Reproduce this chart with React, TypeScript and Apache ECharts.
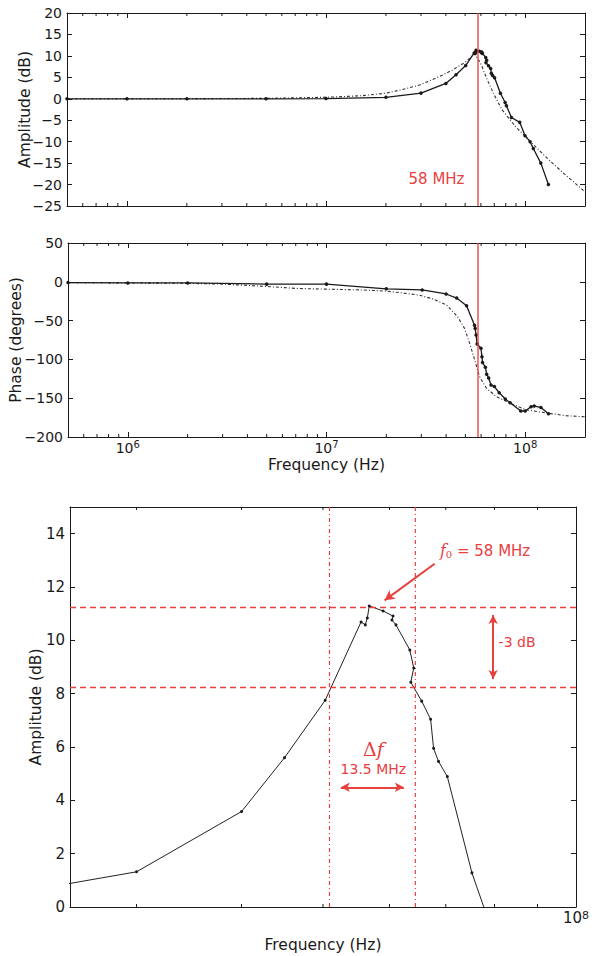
import React, { useEffect, useRef } from 'react';
import * as echarts from 'echarts';

// ---------- measured data ----------
const ampFreqHz = [5e5, 1e6, 2e6, 5e6, 1e7, 2e7, 3e7, 4e7, 4.5e7, 5.03e7, 5.55e7, 5.615e7, 5.646e7, 5.676e7, 5.896e7, 6.058e7, 6.04e7, 6.107e7, 6.343e7, 6.412e7, 6.36e7, 6.553e7, 6.715e7, 6.77e7, 6.862e7, 7.03e7, 7.52e7, 7.94e7, 8.06e7, 8.54e7, 9.4e7, 1.0e8, 1.06e8, 1.1e8, 1.2e8, 1.31e8];
const ampDb = [0, 0, 0, 0, 0.05, 0.35, 1.32, 3.58, 5.6, 7.75, 10.69, 10.58, 10.84, 11.29, 11.1, 10.91, 10.76, 10.58, 9.64, 8.96, 8.43, 7.72, 7.04, 5.95, 5.46, 4.89, 1.28, -0.86, -1.63, -4.36, -5.5, -8.6, -10.0, -11.6, -15.0, -20.0];

const phaseFreqHz = [5e5, 1e6, 2e6, 5e6, 1e7, 2e7, 3.03e7, 4e7, 4.52e7, 5.07e7, 5.56e7, 5.6e7, 5.66e7, 5.73e7, 5.99e7, 6.06e7, 6.1e7, 6.3e7, 6.4e7, 6.55e7, 6.73e7, 7.0e7, 7.4e7, 7.94e7, 8.4e7, 9.5e7, 1.0e8, 1.07e8, 1.11e8, 1.2e8, 1.31e8];
const phaseDeg = [-1, -1.5, -1.5, -3, -3, -9, -10.5, -15.7, -21, -31, -56, -60, -68.5, -80, -85.7, -96.5, -104, -110, -119, -124, -133, -135, -143, -151, -156, -166.5, -166.5, -161, -160, -162, -170];

// ---------- model (fit) curves ----------
const modelAmpFreqHz = [5e5, 1e6, 2e6, 5e6, 1e7, 1.5e7, 2e7, 2.34e7, 2.95e7, 3.72e7, 4.32e7, 5.07e7, 5.56e7, 5.8e7, 6.03e7, 6.46e7, 7.0e7, 7.67e7, 9.0e7, 1.08e8, 1.32e8, 1.6e8, 2e8];
const modelAmpDb = [0, 0, 0.02, 0.1, 0.35, 0.7, 1.3, 2.0, 3.2, 5.2, 6.7, 8.7, 10.5, 9.3, 7.9, 4.4, 0.9, -2.6, -6.6, -10.3, -14.3, -17.8, -21.7];

const modelPhaseFreqHz = [5e5, 1e6, 2e6, 3e6, 5e6, 7e6, 1e7, 1.5e7, 2e7, 2.34e7, 2.9e7, 3.43e7, 4.03e7, 4.57e7, 4.95e7, 5.25e7, 5.56e7, 5.89e7, 6.38e7, 7.16e7, 8.32e7, 1.01e8, 1.27e8, 1.6e8, 2e8];
const modelPhaseDeg = [-1, -1.5, -2, -3, -6, -8.5, -9.5, -10.5, -12, -14, -17, -22, -30, -45, -60, -79, -100, -122, -137, -148, -156, -165, -169, -172.5, -174];

// ---------- annotations ----------
const resonanceHz = 58e6;
const levelLinesDb = [11.25, 8.25];
const bandEdgesHz = [50.9e6, 64.4e6];

// ---------- axis ranges / tick positions ----------
const wideRangeHz = [5e5, 2e8];
const zoomRangeHz = [2.5e7, 1e8];
const ampRange = [-25, 20];
const phaseRange = [-200, 50];
const zoomAmpRange = [0, 15];
const minorTicksWide = [6e5, 7e5, 8e5, 9e5, 2e6, 3e6, 4e6, 5e6, 6e6, 7e6, 8e6, 9e6, 2e7, 3e7, 4e7, 5e7, 6e7, 7e7, 8e7, 9e7];
const minorTicksZoom = [3e7, 4e7, 5e7, 6e7, 7e7, 8e7, 9e7];

const FONT = 'DejaVu Sans';
const SERIF = 'DejaVu Serif';
const BLACK = '#1a1a1a';
const RED = '#e8403f';

const zip = (xs: number[], ys: number[]) => xs.map((x, i) => [x, ys[i]]);
const minusFmt = (v: number) => String(v).replace('-', '\u2212');
const pow10Label = (v: number) => {
  const e = Math.log10(v);
  const r = Math.round(e);
  return Math.abs(e - r) < 1e-6 ? `10{sup|${r}}` : '';
};

function xAxes(gridIndex: number, range: number[], showLabels: boolean, name: string, nameGap: number, fs: number) {
  const common: any = {
    type: 'log', logBase: 10, min: range[0], max: range[1], gridIndex,
    axisLine: { show: true, onZero: false, lineStyle: { color: BLACK, width: 1 } },
    axisTick: { show: true, inside: true, length: 5, lineStyle: { color: BLACK, width: 1 } },
    splitLine: { show: false },
    nameMoveOverlap: false,
  };
  return [
    {
      ...common, position: 'bottom',
      name, nameLocation: 'middle', nameGap,
      nameTextStyle: { fontFamily: FONT, fontSize: 15.5, color: BLACK },
      axisLabel: {
        show: showLabels, formatter: pow10Label, color: BLACK, fontFamily: FONT, fontSize: fs, margin: 3,
        lineHeight: fs + 1, hideOverlap: false,
        rich: { sup: { fontSize: fs - 4, lineHeight: fs - 4, fontFamily: FONT, color: BLACK, padding: [0, 0, 6, 0] } },
      },
    },
    { ...common, position: 'top', axisLabel: { show: false } },
  ];
}

function yAxes(gridIndex: number, range: number[], interval: number, name: string, nameGap: number, fs: number, hideAbove?: number) {
  const common: any = {
    type: 'value', min: range[0], max: range[1], interval, gridIndex,
    axisLine: { show: true, onZero: false, lineStyle: { color: BLACK, width: 1 } },
    axisTick: { show: true, inside: true, length: 5, lineStyle: { color: BLACK, width: 1 } },
    splitLine: { show: false },
    nameMoveOverlap: false,
  };
  return [
    {
      ...common, position: 'left',
      name, nameLocation: 'middle', nameGap, nameRotate: 90,
      nameTextStyle: { fontFamily: FONT, fontSize: 15.5, color: BLACK },
      axisLabel: {
        color: BLACK, fontFamily: FONT, fontSize: fs, margin: 5,
        formatter: (v: number) => (hideAbove !== undefined && v > hideAbove ? '' : minusFmt(v)),
      },
    },
    { ...common, position: 'right', axisLabel: { show: false } },
  ];
}

function minorTickSeries(axisIdx: number, ticks: number[], yRange: number[]) {
  return {
    type: 'custom', xAxisIndex: axisIdx, yAxisIndex: axisIdx, silent: true, z: 5,
    data: ticks.map((t) => [t, yRange[0]]),
    encode: { x: 0, y: 1 },
    renderItem: (_p: any, api: any) => {
      const x = api.value(0);
      const b = api.coord([x, yRange[0]]);
      const t = api.coord([x, yRange[1]]);
      return {
        type: 'group',
        children: [
          { type: 'line', shape: { x1: b[0], y1: b[1], x2: b[0], y2: b[1] - 3 }, style: { stroke: BLACK, lineWidth: 1 } },
          { type: 'line', shape: { x1: t[0], y1: t[1], x2: t[0], y2: t[1] + 3 }, style: { stroke: BLACK, lineWidth: 1 } },
        ],
      };
    },
  };
}

const vPair = (x: number, yRange: number[]) => [{ coord: [x, yRange[0]] }, { coord: [x, yRange[1]] }];
const hPair = (y: number, xRange: number[]) => [{ coord: [xRange[0], y] }, { coord: [xRange[1], y] }];

const redVLine = (yRange: number[]) => ({
  silent: true, symbol: 'none', label: { show: false },
  lineStyle: { color: RED, width: 1.5, type: 'solid', opacity: 0.9 },
  data: [vPair(resonanceHz, yRange)],
});

const dataLine = (xi: number, data: number[][], width: number, sym: number) => ({
  type: 'line', xAxisIndex: xi, yAxisIndex: xi, data,
  symbol: 'circle', symbolSize: sym, showSymbol: true, clip: true,
  itemStyle: { color: BLACK },
  lineStyle: { color: BLACK, width },
  z: 4,
});

const modelLine = (xi: number, data: number[][]) => ({
  type: 'line', xAxisIndex: xi, yAxisIndex: xi, data,
  symbol: 'none', clip: true,
  lineStyle: { color: '#333', width: 1.1, type: [3, 2, 1, 2] },
  z: 3,
});

// band-edge guide drawn as a plain two-point line series
const bandEdgeLine = (x: number) => ({
  type: 'line', xAxisIndex: 4, yAxisIndex: 4, silent: true,
  data: [[x, zoomAmpRange[0]], [x, zoomAmpRange[1]]],
  symbol: 'none', clip: true,
  itemStyle: { color: RED },
  lineStyle: { color: RED, width: 1.2, type: [4, 3, 1, 3] },
  z: 2,
});

const markerHolder = (xi: number, markLine: any) => ({
  type: 'line', xAxisIndex: xi, yAxisIndex: xi, data: [], symbol: 'none',
  itemStyle: { color: RED }, lineStyle: { color: RED },
  markLine, z: 2,
});

export default function App() {
  const ref = useRef<HTMLDivElement>(null);
  useEffect(() => {
    document.body.style.margin = '0';
    if (!ref.current) return;
    const chart = echarts.init(ref.current, undefined, { renderer: 'svg' });

    const lbl = (text: string, coord: number[], extra: any = {}) => ({
      coord,
      symbol: 'circle', symbolSize: 1, itemStyle: { color: 'transparent' },
      label: { show: true, position: 'inside', formatter: text, color: RED, fontFamily: FONT, fontSize: 14, ...extra },
    });

    const option: any = {
      animation: false,
      backgroundColor: '#fff',
      grid: [
        { left: 67, top: 13, width: 518, height: 193 },
        { left: 67, top: 243, width: 518, height: 194 },
        { left: 70, top: 507, width: 513, height: 400 },
      ],
      xAxis: [
        ...xAxes(0, wideRangeHz, false, '', 0, 14),
        ...xAxes(1, wideRangeHz, true, 'Frequency (Hz)', 20, 14),
        ...xAxes(2, zoomRangeHz, true, 'Frequency (Hz)', 30, 15),
      ],
      yAxis: [
        ...yAxes(0, ampRange, 5, 'Amplitude (dB)', 34, 14),
        ...yAxes(1, phaseRange, 50, 'Phase (degrees)', 44, 14),
        ...yAxes(2, zoomAmpRange, 2, 'Amplitude (dB)', 26, 15, 14),
      ],
      series: [
        {
          ...dataLine(0, zip(ampFreqHz, ampDb), 1.3, 3.5),
          markLine: redVLine(ampRange),
          markPoint: {
            silent: true,
            data: [{
              coord: [resonanceHz, -18.7], symbol: 'circle', symbolSize: 1, itemStyle: { color: 'transparent' },
              label: { show: true, position: 'left', distance: 13, formatter: '58 MHz', color: RED, fontFamily: FONT, fontSize: 15 },
            }],
          },
        },
        modelLine(0, zip(modelAmpFreqHz, modelAmpDb)),
        { ...dataLine(2, zip(phaseFreqHz, phaseDeg), 1.3, 3.5), markLine: redVLine(phaseRange) },
        modelLine(2, zip(modelPhaseFreqHz, modelPhaseDeg)),
        // dashed peak / -3 dB levels
        markerHolder(4, {
          silent: true, symbol: 'none', label: { show: false },
          lineStyle: { color: RED, width: 1.3, type: [6, 4] },
          data: levelLinesDb.map((v) => hPair(v, zoomRangeHz)),
        }),
        // dash-dot band edges
        ...bandEdgesHz.map(bandEdgeLine),
        // arrows
        markerHolder(4, {
          silent: true, symbol: 'none', label: { show: false },
          lineStyle: { color: RED, width: 2, type: 'solid' },
          data: [
            [
              { coord: [6.79e7, 12.87], symbol: 'none' },
              { coord: [5.92e7, 11.5], symbol: 'arrow', symbolSize: [8, 10] },
            ],
            [
              { coord: [7.97e7, 10.95], symbol: 'arrow', symbolSize: [7, 9] },
              { coord: [7.97e7, 8.55], symbol: 'arrow', symbolSize: [7, 9] },
            ],
            [
              { coord: [5.25e7, 4.49], symbol: 'arrow', symbolSize: [7, 9] },
              { coord: [6.24e7, 4.49], symbol: 'arrow', symbolSize: [7, 9] },
            ],
          ],
        }),
        {
          ...dataLine(4, zip(ampFreqHz, ampDb), 1, 3),
          lineStyle: { color: '#222', width: 1 },
          markPoint: {
            silent: true,
            data: [
              lbl('{i|f}{s|0} = 58 MHz', [7.795e7, 13.36], {
                fontSize: 15,
                rich: {
                  i: { fontFamily: SERIF, fontStyle: 'italic', fontSize: 16, color: RED },
                  s: { fontFamily: SERIF, fontSize: 10, color: RED, padding: [7, 0, 0, 0] },
                },
              }),
              lbl('-3 dB', [8.51e7, 9.93]),
              lbl('{d|\u0394}{i|f}', [5.74e7, 5.91], {
                rich: {
                  d: { fontFamily: SERIF, fontSize: 19, color: RED },
                  i: { fontFamily: SERIF, fontStyle: 'italic', fontSize: 19, color: RED },
                },
              }),
              lbl('13.5 MHz', [5.74e7, 5.19]),
            ],
          },
        },
        minorTickSeries(0, minorTicksWide, ampRange),
        minorTickSeries(2, minorTicksWide, phaseRange),
        minorTickSeries(4, minorTicksZoom, zoomAmpRange),
      ],
    };
    chart.setOption(option);
    return () => chart.dispose();
  }, []);
  return <div ref={ref} style={{ width: 592, height: 956 }} />;
}
